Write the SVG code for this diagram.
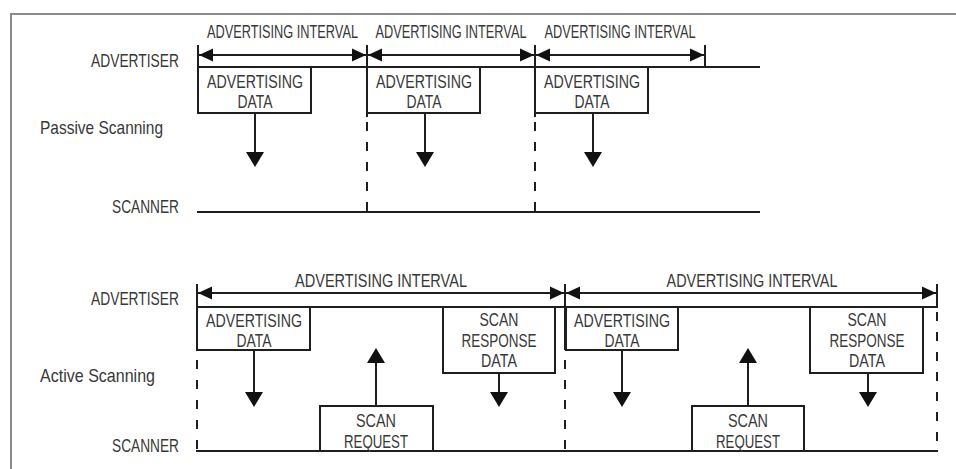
<svg xmlns="http://www.w3.org/2000/svg" width="956" height="469" viewBox="0 0 956 469">
<style>
text{font-family:"Liberation Sans Narrow","Liberation Sans",Arial,sans-serif;font-size:19px;fill:#383838}
.c{text-anchor:middle}
.r{text-anchor:end}
.ln{stroke:#1e1e1e;stroke-width:2;fill:none}
.box{stroke:#1e1e1e;stroke-width:2;fill:#fff}
.dash{stroke:#1e1e1e;stroke-width:2;stroke-dasharray:9 11;fill:none}
.head{fill:#111}
</style>
<defs>
<path id="hl" class="head" d="M0,0 L14,-6.5 L14,6.5 Z"/>
<path id="hr" class="head" d="M0,0 L-14,-6.5 L-14,6.5 Z"/>
<path id="hd" class="head" d="M0,0 L-9,-15 L9,-15 Z"/>
<path id="hu" class="head" d="M0,0 L-9,15 L9,15 Z"/>
</defs>
<rect width="956" height="469" fill="#fff"/>
<path d="M11,469 V14 H956" stroke="#8a8a8a" stroke-width="2" fill="none"/>

<g id="labels">
<text class="r" x="179" y="67" textLength="88" lengthAdjust="spacingAndGlyphs">ADVERTISER</text>
<text x="40" y="134" textLength="123" lengthAdjust="spacingAndGlyphs">Passive Scanning</text>
<text class="r" x="179" y="213" textLength="67" lengthAdjust="spacingAndGlyphs">SCANNER</text>
<text class="r" x="179" y="305" textLength="88" lengthAdjust="spacingAndGlyphs">ADVERTISER</text>
<text x="40" y="382" textLength="115" lengthAdjust="spacingAndGlyphs">Active Scanning</text>
<text class="r" x="179" y="452" textLength="67" lengthAdjust="spacingAndGlyphs">SCANNER</text>
</g>

<g id="timelines">
<line class="ln" x1="198" y1="67" x2="760" y2="67"/>
<line class="ln" x1="197" y1="212" x2="760" y2="212"/>
<line class="ln" x1="196" y1="307" x2="938" y2="307"/>
<line class="ln" x1="196" y1="451" x2="938" y2="451"/>
<line class="dash" x1="367" y1="122" x2="367" y2="212"/>
<line class="dash" x1="535" y1="122" x2="535" y2="212"/>
<line class="dash" x1="197" y1="360" x2="197" y2="451"/>
<line class="dash" x1="565" y1="360" x2="565" y2="451"/>
<line class="dash" x1="937" y1="312" x2="937" y2="451"/>
</g>

<g id="intervals">
<line class="ln" x1="198" y1="45" x2="198" y2="67"/>
<line class="ln" x1="367" y1="45" x2="367" y2="117"/>
<line class="ln" x1="535" y1="45" x2="535" y2="117"/>
<line class="ln" x1="705" y1="45" x2="705" y2="67"/>
<line class="ln" x1="198" y1="55" x2="705" y2="55"/>
<use href="#hl" x="199" y="55"/><use href="#hr" x="366" y="55"/>
<use href="#hl" x="368" y="55"/><use href="#hr" x="534" y="55"/>
<use href="#hl" x="536" y="55"/><use href="#hr" x="704" y="55"/>
<text class="c" x="282.5" y="38" textLength="151" lengthAdjust="spacingAndGlyphs">ADVERTISING INTERVAL</text>
<text class="c" x="451" y="38" textLength="151" lengthAdjust="spacingAndGlyphs">ADVERTISING INTERVAL</text>
<text class="c" x="620" y="38" textLength="151" lengthAdjust="spacingAndGlyphs">ADVERTISING INTERVAL</text>

<line class="ln" x1="197" y1="284" x2="197" y2="307"/>
<line class="ln" x1="565" y1="284" x2="565" y2="350"/>
<line class="ln" x1="937" y1="284" x2="937" y2="307"/>
<line class="ln" x1="197" y1="293" x2="937" y2="293"/>
<use href="#hl" x="198" y="293"/><use href="#hr" x="564" y="293"/>
<use href="#hl" x="566" y="293"/><use href="#hr" x="936" y="293"/>
<text class="c" x="381" y="287" textLength="172" lengthAdjust="spacingAndGlyphs">ADVERTISING INTERVAL</text>
<text class="c" x="752" y="287" textLength="171" lengthAdjust="spacingAndGlyphs">ADVERTISING INTERVAL</text>
</g>

<g id="connectors">
<line class="ln" x1="255" y1="113" x2="255" y2="155"/><use href="#hd" x="255" y="167"/>
<line class="ln" x1="425" y1="113" x2="425" y2="155"/><use href="#hd" x="425" y="167"/>
<line class="ln" x1="593" y1="113" x2="593" y2="155"/><use href="#hd" x="593" y="167"/>
<line class="ln" x1="254" y1="350" x2="254" y2="395"/><use href="#hd" x="254" y="407"/>
<line class="ln" x1="376" y1="406" x2="376" y2="360"/><use href="#hu" x="376" y="348"/>
<line class="ln" x1="499" y1="373" x2="499" y2="395"/><use href="#hd" x="499" y="407"/>
<line class="ln" x1="622" y1="350" x2="622" y2="395"/><use href="#hd" x="622" y="407"/>
<line class="ln" x1="748" y1="406" x2="748" y2="360"/><use href="#hu" x="748" y="348"/>
<line class="ln" x1="868" y1="373" x2="868" y2="395"/><use href="#hd" x="868" y="407"/>
</g>

<g id="adv-data-p1"><rect class="box" x="198" y="67" width="113" height="46"/>
<text class="c" x="255" y="88" textLength="96" lengthAdjust="spacingAndGlyphs">ADVERTISING</text>
<text class="c" x="255" y="108" textLength="35" lengthAdjust="spacingAndGlyphs">DATA</text></g>
<g id="adv-data-p2"><rect class="box" x="367" y="67" width="113" height="46"/>
<text class="c" x="424" y="88" textLength="96" lengthAdjust="spacingAndGlyphs">ADVERTISING</text>
<text class="c" x="424" y="108" textLength="35" lengthAdjust="spacingAndGlyphs">DATA</text></g>
<g id="adv-data-p3"><rect class="box" x="535" y="67" width="113" height="46"/>
<text class="c" x="592" y="88" textLength="96" lengthAdjust="spacingAndGlyphs">ADVERTISING</text>
<text class="c" x="592" y="108" textLength="35" lengthAdjust="spacingAndGlyphs">DATA</text></g>

<g id="adv-data-a1"><rect class="box" x="197" y="307" width="113" height="43"/>
<text class="c" x="254" y="327" textLength="96" lengthAdjust="spacingAndGlyphs">ADVERTISING</text>
<text class="c" x="254" y="347" textLength="35" lengthAdjust="spacingAndGlyphs">DATA</text></g>
<g id="scan-req-a1"><rect class="box" x="320" y="406" width="113" height="45"/>
<text class="c" x="376" y="427" textLength="40" lengthAdjust="spacingAndGlyphs">SCAN</text>
<text class="c" x="376" y="448" textLength="64" lengthAdjust="spacingAndGlyphs">REQUEST</text></g>
<g id="scan-resp-a1"><rect class="box" x="443" y="307" width="112" height="66"/>
<text class="c" x="499" y="326" textLength="39" lengthAdjust="spacingAndGlyphs">SCAN</text>
<text class="c" x="499" y="347" textLength="75" lengthAdjust="spacingAndGlyphs">RESPONSE</text>
<text class="c" x="499" y="367" textLength="36" lengthAdjust="spacingAndGlyphs">DATA</text></g>

<g id="adv-data-a2"><rect class="box" x="566" y="307" width="112" height="43"/>
<text class="c" x="622" y="327" textLength="96" lengthAdjust="spacingAndGlyphs">ADVERTISING</text>
<text class="c" x="622" y="347" textLength="35" lengthAdjust="spacingAndGlyphs">DATA</text></g>
<g id="scan-req-a2"><rect class="box" x="692" y="406" width="112" height="45"/>
<text class="c" x="748" y="427" textLength="40" lengthAdjust="spacingAndGlyphs">SCAN</text>
<text class="c" x="748" y="448" textLength="64" lengthAdjust="spacingAndGlyphs">REQUEST</text></g>
<g id="scan-resp-a2"><rect class="box" x="810" y="307" width="113" height="66"/>
<text class="c" x="867" y="326" textLength="39" lengthAdjust="spacingAndGlyphs">SCAN</text>
<text class="c" x="867" y="347" textLength="75" lengthAdjust="spacingAndGlyphs">RESPONSE</text>
<text class="c" x="867" y="367" textLength="36" lengthAdjust="spacingAndGlyphs">DATA</text></g>
</svg>
